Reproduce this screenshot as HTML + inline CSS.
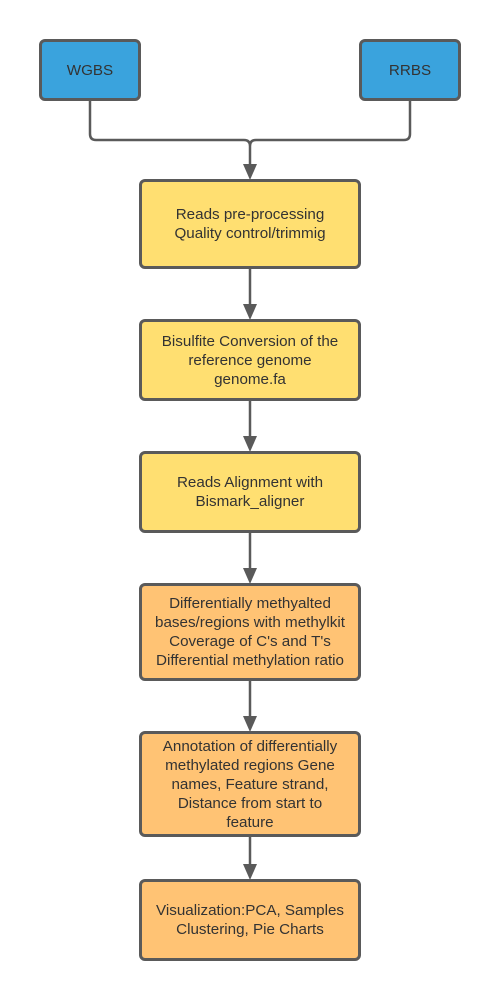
<!DOCTYPE html><html><head><style>
body{margin:0;width:500px;height:1000px;background:#fff;position:relative;font-family:"Liberation Sans",sans-serif;}
.b{position:absolute;box-sizing:border-box;border:3px solid #5a5a5a;border-radius:6px;display:flex;align-items:center;justify-content:center;text-align:center;font-size:15.2px;line-height:19px;color:#333;}
.bl{background:#3aa3dd}.y{background:#ffdf71}.o{background:#ffc374}
</style></head><body>
<svg width="500" height="1000" style="position:absolute;left:0;top:0">
<g stroke="#5a5a5a" stroke-width="2.5" fill="none">
<path d="M90 100 V134 Q90 140 96 140 H244 Q250 140 250 146 M410 100 V134 Q410 140 404 140 H256 Q250 140 250 146 V166"/>
<path d="M250 268 V306 M250 400 V438 M250 532 V570 M250 680 V718 M250 836 V866"/>
</g>
<g fill="#5a5a5a">
<path d="M243 164 L257 164 L250 180Z"/><path d="M243 304 L257 304 L250 320Z"/><path d="M243 436 L257 436 L250 452Z"/><path d="M243 568 L257 568 L250 584Z"/><path d="M243 716 L257 716 L250 732Z"/><path d="M243 864 L257 864 L250 880Z"/>
</g></svg>
<div class="b bl" style="left:39px;top:39px;width:102px;height:62px">WGBS</div>
<div class="b bl" style="left:359px;top:39px;width:102px;height:62px">RRBS</div>
<div class="b y" style="left:139px;top:179px;width:222px;height:90px">Reads pre-processing<br>Quality control/trimmig</div>
<div class="b y" style="left:139px;top:319px;width:222px;height:82px">Bisulfite Conversion of the<br>reference genome<br>genome.fa</div>
<div class="b y" style="left:139px;top:451px;width:222px;height:82px">Reads Alignment with<br>Bismark_aligner</div>
<div class="b o" style="left:139px;top:583px;width:222px;height:98px">Differentially methyalted<br>bases/regions with methylkit<br>Coverage of C's and T's<br>Differential methylation ratio</div>
<div class="b o" style="left:139px;top:731px;width:222px;height:106px">Annotation of differentially<br>methylated regions Gene<br>names, Feature strand,<br>Distance from start to<br>feature</div>
<div class="b o" style="left:139px;top:879px;width:222px;height:82px">Visualization:PCA, Samples<br>Clustering, Pie Charts</div>
</body></html>
